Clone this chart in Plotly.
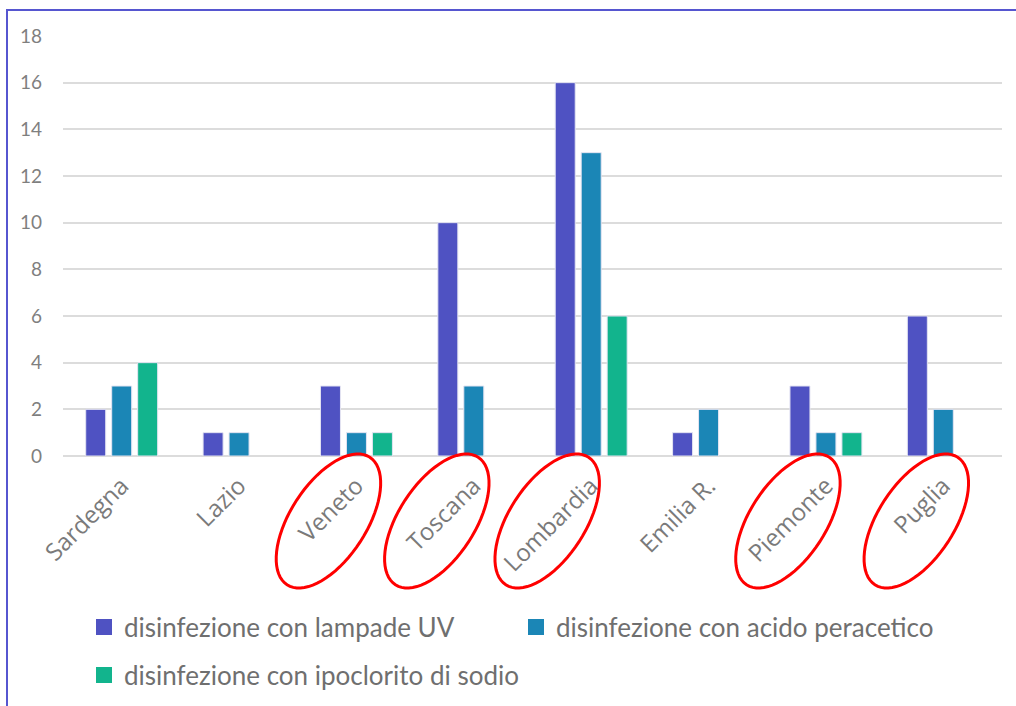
import numpy as np
import plotly.graph_objects as go

categories = ["Sardegna", "Lazio", "Veneto", "Toscana", "Lombardia", "Emilia R.", "Piemonte", "Puglia"]
uv_values = [2, 1, 3, 10, 16, 1, 3, 6]
acido_values = [3, 1, 1, 3, 13, 2, 1, 2]
ipoclorito_values = [4, None, 1, None, 6, None, 1, None]
series_names = ["disinfezione con lampade UV",
                "disinfezione con acido peracetico",
                "disinfezione con ipoclorito di sodio"]
y_ticks = [0, 2, 4, 6, 8, 10, 12, 14, 16, 18]
highlighted = ["Veneto", "Toscana", "Lombardia", "Piemonte", "Puglia"]

colors = ["#4f52c2", "#1b86b6", "#12b48d"]
W, H = 1016, 706
ML, MR, MT, MB = 63, 14, 36, 250
PW, PH = W - ML - MR, H - MT - MB


def px_to_paper(xp, yp):
    return (xp - ML) / PW, (H - MB - yp) / PH


fig = go.Figure()
for vals, name, col in zip([uv_values, acido_values, ipoclorito_values], series_names, colors):
    fig.add_trace(go.Bar(x=categories, y=vals, name=name, marker_color=col,
                         marker_line=dict(color="#e4e4f2", width=1), showlegend=False,
                         hoverinfo="skip"))

for i, (name, col) in enumerate(zip(series_names, colors)):
    fig.add_trace(go.Scatter(x=[None], y=[None], mode="markers", name=name,
                             marker=dict(symbol="square", size=17, color=col),
                             legend="legend" if i < 2 else "legend2"))

shapes = []
# outer frame
fx0, fy0 = px_to_paper(7, 725)
fx1, fy1 = px_to_paper(1040, 10)
shapes.append(dict(type="rect", xref="paper", yref="paper", x0=fx0, y0=fy0, x1=fx1, y1=fy1,
                   line=dict(color="#5656d0", width=2), fillcolor="rgba(0,0,0,0)", layer="above"))

# red ellipses around highlighted labels
offsets = {"Veneto": -28, "Toscana": -37, "Lombardia": -44, "Piemonte": -38, "Puglia": -27}
a, b, th = 76, 38, np.deg2rad(57)
t = np.linspace(0, 2 * np.pi, 73)
n = len(categories)
for lab in highlighted:
    idx = categories.index(lab)
    cx = ML + (idx + 0.5) / n * PW + offsets[lab]
    cy = 521
    ex = cx + a * np.cos(t) * np.cos(th) - b * np.sin(t) * np.sin(th)
    ey = cy - (a * np.cos(t) * np.sin(th) + b * np.sin(t) * np.cos(th))
    pts = [px_to_paper(x, y) for x, y in zip(ex, ey)]
    path = "M" + " L".join(f"{x:.5f},{y:.5f}" for x, y in pts) + " Z"
    shapes.append(dict(type="path", xref="paper", yref="paper", path=path,
                       line=dict(color="#ff0000", width=3)))

lx, ly1 = px_to_paper(84, 627)
_, ly2 = px_to_paper(84, 675)
legend_font = dict(family="Lato", size=26, color="#6f6f6f")

fig.update_layout(
    width=W, height=H,
    margin=dict(l=ML, r=MR, t=MT, b=MB, autoexpand=False),
    paper_bgcolor="white", plot_bgcolor="white",
    barmode="group", bargap=0.336, bargroupgap=0.23,
    shapes=shapes,
    legend=dict(orientation="h", x=lx, y=ly1, xanchor="left", yanchor="middle",
                font=legend_font, entrywidth=387, entrywidthmode="pixels",
                itemsizing="trace", bgcolor="rgba(0,0,0,0)"),
    legend2=dict(orientation="h", x=lx, y=ly2, xanchor="left", yanchor="middle",
                 font=legend_font, itemsizing="trace", bgcolor="rgba(0,0,0,0)"),
    xaxis=dict(type="category", tickangle=-45, showgrid=False, showline=False, ticks="",
               tickfont=dict(family="Open Sans", size=24, color="#7a7a7a"),
               ticklabelstandoff=10),
    yaxis=dict(range=[0, 18], tickvals=y_ticks, showgrid=True, gridcolor="#dcdcdc", gridwidth=1.5,
               zeroline=True, zerolinecolor="#dcdcdc", zerolinewidth=1.5, showline=False, ticks="",
               tickfont=dict(family="Lato", size=19, color="#7f7f7f"), ticklabelstandoff=20),
)

fig.write_html("out.html", config={"displayModeBar": False},
               post_script="document.body.style.margin='0';document.body.style.overflow='hidden';")
